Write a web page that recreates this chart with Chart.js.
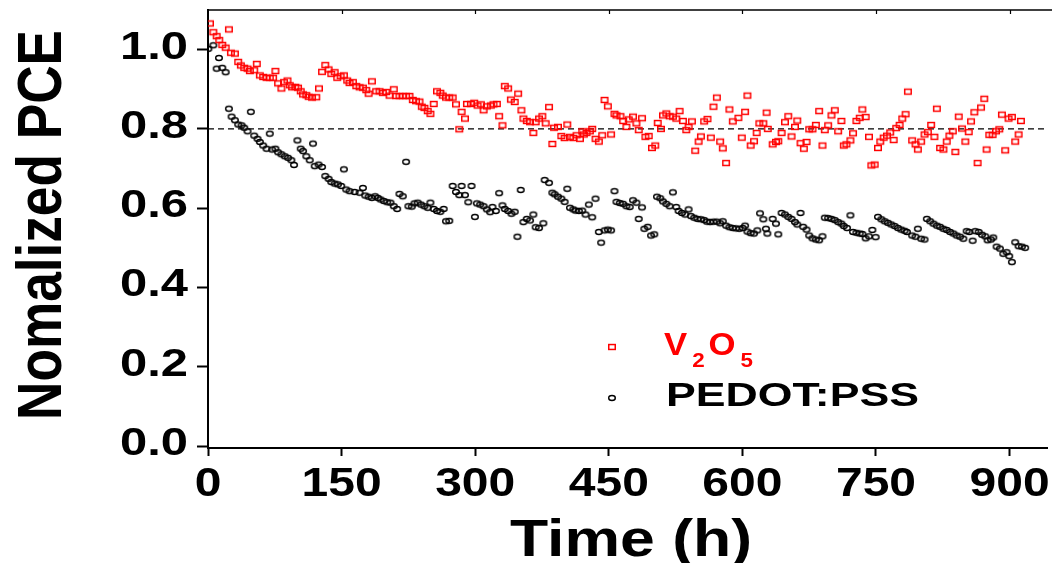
<!DOCTYPE html>
<html>
<head>
<meta charset="utf-8">
<script src="https://cdn.jsdelivr.net/npm/chart.js@4.4.1/dist/chart.umd.min.js"></script>
<style>
html,body{margin:0;padding:0;background:#fff;}
#wrap{width:1052px;height:563px;position:relative;}
</style>
</head>
<body>
<div id="wrap"><canvas id="c" width="1052" height="563"></canvas></div>
<script>
// ---------------- data ----------------
const seriesNames = ['V2O5', 'PEDOT:PSS'];
const xTitle = 'Time (h)';
const yTitle = 'Nomalized PCE';
const xTickValues = [0, 150, 300, 450, 600, 750, 900];
const xTickLabels = ['0', '150', '300', '450', '600', '750', '900'];
const yTickValues = [0, 0.2, 0.4, 0.6, 0.8, 1.0];
const yTickLabels = ['0.0', '0.2', '0.4', '0.6', '0.8', '1.0'];
const referenceLevel = 0.8;

const v2o5Hours = [
 2.2,6.0,9.7,12.7,16.0,19.8,23.5,25.7,30.2,33.9,36.9,40.7,44.4,47.0,51.9,54.8,58.2,61.9,65.7,69.4,73.1,75.7,78.7,82.4,85.4,89.2,91.8,94.4,98.1,101.1,104.1,106.7,110.4,113.0,116.8,121.6,124.6,128.0,131.7,135.4,138.4,142.2,145.1,148.9,152.6,156.3,158.9,
 162.7,166.5,170.2,173.9,177.7,180.3,184.0,188.8,192.6,196.3,200.0,203.8,208.6,211.2,215.0,218.7,222.4,226.2,229.9,233.6,237.4,240.0,243.0,246.7,249.7,253.4,257.1,260.9,263.5,267.2,270.9,274.7,278.4,282.1,284.7,288.5,290.7,295.2,298.9,302.6,306.4,309.4,313.1,
 317.6,320.5,324.3,326.9,330.6,333.2,337.0,340.0,344.4,348.2,351.9,354.1,357.9,361.6,365.3,367.9,371.7,375.4,379.1,382.9,386.6,388.5,392.9,396.7,400.4,403.4,406.4,410.1,413.8,417.6,420.2,422.0,425.0,428.7,431.4,435.1,438.8,442.6,445.2,448.9,452.6,456.4,458.6,463.1,466.1,469.8,
 472.4,477.2,481.0,483.6,487.3,491.1,494.8,498.5,502.2,504.9,508.6,510.8,514.6,518.3,522.0,525.8,529.5,533.2,537.0,539.6,543.3,547.0,550.8,553.4,557.1,560.8,564.6,567.5,571.3,575.0,578.0,581.7,585.4,589.2,595.5,599.3,603.0,605.6,609.3,613.1,616.0,619.0,623.5,627.2,628.5,
 634.0,637.7,640.3,644.0,647.8,651.5,655.2,659.0,661.6,665.3,669.0,672.0,675.0,678.7,682.5,686.2,689.9,692.5,696.3,700.0,703.7,707.5,711.2,713.8,716.8,721.3,724.2,728.0,731.7,734.7,738.4,742.1,744.8,748.5,752.2,754.8,758.6,762.3,766.0,769.8,772.7,776.5,779.5,783.2,785.8,
 790.6,794.4,797.0,800.7,804.5,808.2,811.9,815.6,818.3,822.0,825.7,829.4,832.4,836.2,839.1,842.9,846.6,850.3,854.1,856.7,860.4,864.1,867.9,871.6,874.2,877.2,880.9,884.7,888.4,891.4,895.1,898.8,902.6,906.3,910.1,912.7
];
const v2o5Values = [
 1.066,1.044,1.034,1.024,1.012,1.005,1.051,0.992,0.990,0.969,0.960,0.954,0.952,0.946,0.948,0.964,0.935,0.931,0.929,0.929,0.929,0.946,0.915,0.902,0.918,0.922,0.910,0.905,0.906,0.904,0.895,0.887,0.885,0.881,0.879,0.880,0.902,0.944,0.961,0.950,0.939,0.943,0.929,0.933,0.935,0.922,0.916,
 0.918,0.908,0.905,0.904,0.898,0.889,0.920,0.895,0.895,0.891,0.893,0.884,0.900,0.883,0.883,0.883,0.883,0.883,0.873,0.870,0.869,0.856,0.853,0.845,0.838,0.863,0.895,0.891,0.884,0.879,0.879,0.879,0.862,0.799,0.843,0.826,0.863,0.863,0.866,0.859,0.862,0.847,0.857,
 0.859,0.862,0.863,0.832,0.809,0.908,0.902,0.874,0.868,0.889,0.847,0.826,0.820,0.817,0.790,0.817,0.826,0.832,0.814,0.855,0.762,0.803,0.805,0.782,0.777,0.811,0.780,0.777,0.784,0.775,0.794,0.786,0.790,0.794,0.800,0.775,0.768,0.784,0.873,0.857,0.786,0.838,0.834,0.832,0.820,0.805,
 0.824,0.831,0.814,0.797,0.827,0.780,0.782,0.752,0.758,0.815,0.800,0.834,0.839,0.832,0.831,0.826,0.845,0.820,0.797,0.805,0.819,0.745,0.768,0.781,0.819,0.825,0.778,0.856,0.879,0.768,0.751,0.714,0.849,0.819,0.828,0.778,0.843,0.884,0.758,0.769,0.790,0.814,0.814,0.841,0.800,
 0.761,0.767,0.769,0.790,0.817,0.832,0.781,0.805,0.821,0.764,0.750,0.767,0.799,0.799,0.810,0.845,0.758,0.797,0.809,0.834,0.847,0.794,0.820,0.758,0.761,0.771,0.789,0.820,0.828,0.849,0.830,0.780,0.708,0.710,0.752,0.768,0.778,0.783,0.791,0.772,0.802,0.810,0.826,0.837,0.894,
 0.771,0.761,0.748,0.768,0.786,0.792,0.810,0.780,0.851,0.752,0.748,0.768,0.783,0.794,0.742,0.831,0.801,0.768,0.792,0.819,0.842,0.714,0.854,0.876,0.748,0.785,0.785,0.794,0.799,0.836,0.746,0.826,0.830,0.768,0.786,0.820
];
const pedotHours = [
 0.4,6.0,9.7,12.3,16.0,19.8,23.5,26.5,30.2,33.9,37.7,40.7,44.4,48.1,51.9,55.6,58.2,61.9,65.7,69.4,72.0,75.7,78.7,82.4,86.2,89.9,93.6,96.6,100.4,104.1,106.7,110.4,114.2,117.9,119.8,124.2,128.0,131.7,135.4,138.4,142.2,145.9,149.6,152.6,155.2,158.9,
 164.6,170.2,173.9,176.5,180.3,184.0,187.7,190.7,193.7,197.4,201.2,204.9,208.6,212.4,215.0,218.7,222.4,225.0,228.8,231.8,235.5,239.2,243.0,246.7,249.7,253.4,257.1,260.9,264.6,267.2,270.9,274.7,278.4,282.1,284.7,288.5,292.2,295.9,299.7,301.9,305.6,309.4,313.1,
 316.8,319.4,323.2,326.9,330.6,333.2,337.0,340.7,344.4,347.4,351.1,354.1,357.9,361.6,365.3,367.9,371.7,376.5,378.0,382.9,386.6,389.2,392.9,396.7,400.4,403.4,406.4,410.1,412.7,416.4,420.2,423.9,427.6,431.4,435.1,438.8,441.4,445.2,448.9,452.6,456.4,458.6,462.3,466.1,469.8,
 473.5,477.2,481.0,483.6,487.3,489.9,493.7,497.4,501.1,504.1,507.8,510.8,514.6,518.3,522.0,525.8,528.4,532.1,535.8,539.6,542.2,545.9,549.6,553.4,557.1,560.1,563.8,567.5,571.3,575.0,578.0,581.7,585.4,589.2,592.9,596.6,600.4,603.0,605.6,609.3,613.1,616.8,619.8,623.5,626.5,628.0,
 634.0,637.7,640.3,644.0,647.8,651.5,655.2,659.0,661.6,665.3,668.3,672.0,675.0,678.7,682.5,686.2,689.9,692.5,696.3,700.0,703.7,707.5,711.2,713.8,717.5,721.3,724.2,728.0,731.7,734.7,738.4,742.1,745.9,749.6,752.2,756.0,759.7,763.4,767.1,770.9,774.6,778.3,782.1,784.7,
 790.6,794.4,797.0,800.7,804.5,807.1,810.8,814.5,818.3,822.0,825.7,829.4,833.2,836.9,840.6,844.4,848.1,851.8,854.8,858.5,861.5,865.3,869.0,872.7,875.3,879.1,881.7,885.4,889.1,892.9,896.6,899.6,902.6,906.3,910.1,913.8,917.5
];
const pedotValues = [
 1.002,1.011,0.952,0.979,0.954,0.943,0.851,0.831,0.822,0.811,0.809,0.803,0.794,0.843,0.783,0.775,0.767,0.758,0.750,0.788,0.748,0.750,0.741,0.736,0.731,0.727,0.721,0.709,0.771,0.750,0.744,0.731,0.721,0.763,0.706,0.710,0.704,0.681,0.674,0.666,0.662,0.660,0.656,0.698,0.647,0.643,
 0.641,0.639,0.651,0.632,0.629,0.626,0.630,0.626,0.622,0.618,0.615,0.614,0.605,0.598,0.636,0.630,0.717,0.605,0.604,0.612,0.614,0.609,0.605,0.601,0.614,0.598,0.593,0.591,0.598,0.567,0.568,0.656,0.641,0.633,0.656,0.633,0.615,0.656,0.578,0.612,0.609,0.605,0.597,
 0.590,0.603,0.593,0.638,0.607,0.598,0.593,0.586,0.591,0.528,0.646,0.565,0.573,0.569,0.584,0.552,0.550,0.562,0.671,0.664,0.639,0.635,0.629,0.624,0.616,0.649,0.601,0.597,0.594,0.593,0.594,0.584,0.609,0.577,0.624,0.540,0.513,0.544,0.546,0.544,0.643,0.616,0.613,0.611,0.605,
 0.603,0.620,0.614,0.573,0.602,0.548,0.553,0.531,0.534,0.629,0.625,0.617,0.611,0.605,0.640,0.603,0.593,0.588,0.584,0.597,0.580,0.576,0.573,0.572,0.570,0.566,0.565,0.566,0.566,0.562,0.567,0.556,0.552,0.550,0.549,0.548,0.550,0.556,0.541,0.537,0.536,0.544,0.587,0.572,0.548,0.536,
 0.573,0.561,0.534,0.588,0.584,0.578,0.573,0.565,0.559,0.588,0.553,0.546,0.531,0.524,0.521,0.519,0.529,0.576,0.575,0.573,0.570,0.565,0.561,0.555,0.550,0.582,0.540,0.538,0.536,0.535,0.524,0.529,0.545,0.527,0.578,0.572,0.567,0.563,0.559,0.555,0.550,0.546,0.543,0.540,
 0.531,0.528,0.548,0.523,0.521,0.573,0.567,0.561,0.556,0.553,0.548,0.545,0.540,0.536,0.531,0.528,0.523,0.542,0.540,0.518,0.542,0.540,0.533,0.529,0.519,0.521,0.526,0.503,0.498,0.485,0.489,0.479,0.464,0.514,0.504,0.503,0.500
];

// ---------------- helpers ----------------
const FONT = '"Liberation Sans", Arial, Helvetica, sans-serif';
const RED = '#ff0000';
const BLACK = '#000000';

function toPoints(xs, ys) {
  const n = Math.min(xs.length, ys.length);
  const out = [];
  for (let i = 0; i < n; i++) out.push({ x: xs[i], y: ys[i] });
  return out;
}

function makeMarker(kind, color, w, h, lw) {
  const cv = document.createElement('canvas');
  cv.width = 12; cv.height = 10;
  const c = cv.getContext('2d');
  c.strokeStyle = color;
  c.lineWidth = lw;
  const cx = cv.width / 2, cy = cv.height / 2;
  if (kind === 'rect') {
    c.strokeRect(cx - w / 2 + lw / 2, cy - h / 2 + lw / 2, w - lw, h - lw);
  } else {
    c.beginPath();
    c.ellipse(cx, cy, w / 2 - lw / 2, h / 2 - lw / 2, 0, 0, Math.PI * 2);
    c.stroke();
  }
  return cv;
}
const squareMarker = makeMarker('rect', RED, 8, 6.4, 1.5);
const circleMarker = makeMarker('circle', BLACK, 8, 6.4, 1.4);

function drawStretched(ctx, txt, x, y, size, sx, align, color) {
  ctx.save();
  ctx.font = 'bold ' + size + 'px ' + FONT;
  ctx.fillStyle = color;
  ctx.textAlign = align;
  ctx.textBaseline = 'alphabetic';
  ctx.translate(x, y);
  ctx.scale(sx, 1);
  ctx.fillText(txt, 0, 0);
  ctx.restore();
}
function textWidth(ctx, txt, size) {
  ctx.save();
  ctx.font = 'bold ' + size + 'px ' + FONT;
  const w = ctx.measureText(txt).width;
  ctx.restore();
  return w;
}

const decorPlugin = {
  id: 'decor',
  afterDraw(chart) {
    const ctx = chart.ctx;
    const a = chart.chartArea;
    const xs = chart.scales.x, ys = chart.scales.y;

    // top frame line (the right edge of the frame lies outside the picture) with inward ticks
    ctx.save();
    ctx.strokeStyle = BLACK;
    ctx.lineWidth = 1.5;
    ctx.beginPath();
    ctx.moveTo(a.left - 1, a.top);
    ctx.lineTo(chart.width, a.top);
    ctx.stroke();
    ctx.lineWidth = 1.2;
    ctx.beginPath();
    xTickValues.forEach(v => {
      if (v === 0) return;
      const px = Math.round(xs.getPixelForValue(v)) + 0.5;
      ctx.moveTo(px, a.top);
      ctx.lineTo(px, a.top + 4);
    });
    ctx.stroke();
    ctx.restore();

    // y tick labels
    const ySize = 38;
    const ySx = 68 / textWidth(ctx, '1.0', ySize);
    yTickValues.forEach((v, i) => {
      const py = ys.getPixelForValue(v);
      drawStretched(ctx, yTickLabels[i], 188, py + 9, ySize, ySx, 'right', BLACK);
    });
    // x tick labels
    const xSize = 40;
    const xSx = 1.2;
    xTickValues.forEach((v, i) => {
      const px = xs.getPixelForValue(v);
      drawStretched(ctx, xTickLabels[i], px, 496, xSize, xSx, 'center', BLACK);
    });
    // x title
    const tSize = 52;
    const tSx = 242 / textWidth(ctx, xTitle, tSize);
    drawStretched(ctx, xTitle, 631, 556, tSize, tSx, 'center', BLACK);
    // y title (rotated)
    ctx.save();
    ctx.translate(61, 225);
    ctx.rotate(-Math.PI / 2);
    ctx.scale(390 / textWidth(ctx, yTitle, 53), 1.18);
    ctx.font = 'bold 53px ' + FONT;
    ctx.fillStyle = BLACK;
    ctx.textAlign = 'center';
    ctx.textBaseline = 'alphabetic';
    ctx.fillText(yTitle, 0, 0);
    ctx.restore();

    // legend
    ctx.drawImage(squareMarker, 612 - squareMarker.width / 2, 347 - squareMarker.height / 2);
    ctx.drawImage(circleMarker, 612 - circleMarker.width / 2, 398 - circleMarker.height / 2);
    const lSize = 31, lSx = 1.12, subSize = 20;
    let x = 664;
    drawStretched(ctx, 'V', x, 355, lSize, lSx, 'left', RED);
    x += textWidth(ctx, 'V', lSize) * lSx + 5;
    drawStretched(ctx, '2', x, 367, subSize, lSx, 'left', RED);
    x += textWidth(ctx, '2', subSize) * lSx + 4;
    drawStretched(ctx, 'O', x, 355, lSize, lSx, 'left', RED);
    x += textWidth(ctx, 'O', lSize) * lSx + 5;
    drawStretched(ctx, '5', x, 367, subSize, lSx, 'left', RED);
    const pSize = 34;
    const pSx = 253 / textWidth(ctx, seriesNames[1], pSize);
    drawStretched(ctx, seriesNames[1], 666, 406, pSize, pSx, 'left', BLACK);
  }
};

const ctx = document.getElementById('c').getContext('2d');
new Chart(ctx, {
  type: 'scatter',
  data: {
    datasets: [
      {
        label: seriesNames[0],
        data: toPoints(v2o5Hours, v2o5Values),
        pointStyle: squareMarker,
        pointRadius: 4,
        showLine: false
      },
      {
        label: seriesNames[1],
        data: toPoints(pedotHours, pedotValues),
        pointStyle: circleMarker,
        pointRadius: 4,
        showLine: false
      },
      {
        type: 'line',
        label: 'reference',
        data: [{ x: 0, y: referenceLevel }, { x: 942, y: referenceLevel }],
        borderColor: BLACK,
        borderWidth: 1.3,
        borderDash: [6, 4],
        pointRadius: 0,
        fill: false
      }
    ]
  },
  options: {
    responsive: false,
    animation: false,
    devicePixelRatio: 1,
    layout: { padding: { top: 10, right: 2, left: 0, bottom: 0 } },
    plugins: { legend: { display: false }, tooltip: { enabled: false } },
    scales: {
      x: {
        type: 'linear',
        position: 'bottom',
        min: 0,
        max: 942,
        afterBuildTicks: s => { s.ticks = xTickValues.map(v => ({ value: v })); },
        afterFit: s => { s.height = 115; },
        ticks: { display: false },
        grid: { display: true, drawOnChartArea: false, drawTicks: true, tickLength: 8, tickWidth: 2, tickColor: BLACK },
        border: { display: true, color: BLACK, width: 2 }
      },
      y: {
        type: 'linear',
        position: 'left',
        min: -0.005,
        max: 1.1,
        afterBuildTicks: s => { s.ticks = yTickValues.map(v => ({ value: v })); },
        afterFit: s => { s.width = 208; },
        ticks: { display: false },
        grid: { display: true, drawOnChartArea: false, drawTicks: true, tickLength: 11, tickWidth: 2, tickColor: BLACK },
        border: { display: true, color: BLACK, width: 2 }
      }
    }
  },
  plugins: [decorPlugin]
});
</script>
</body>
</html>
